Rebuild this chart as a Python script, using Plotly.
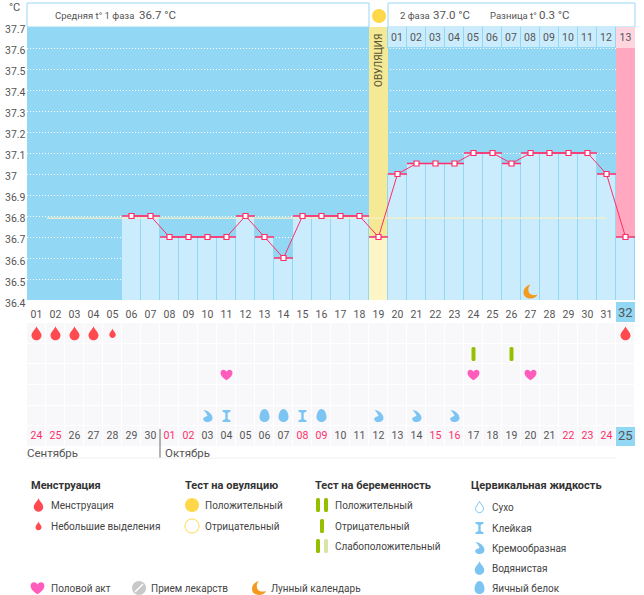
import re
import plotly.graph_objects as go

W, H = 644, 595
FONT = "Roboto"
LEGEND_FONT = "Roboto"
GREY = "#555555"
INK = "#444444"
SKY = "#92d8f5"
PALE = "#cbecfd"
RED = "#ff2d68"
PINK_TEXT = "#ff2d68"
BLOOD = "#ff4a50"
FLUID = "#7cc4f2"
GREEN = "#96bf00"
HEART_PINK = "#ff5cbc"
MOON_ORANGE = "#f39a1e"
SUN = "#ffd84a"
ITEM = 10

# chart data
cycle_days = list(range(1, 33))
day_labels = [f"{d:02d}" for d in cycle_days]
temp_days = [6, 7, 8, 9, 10, 11, 12, 13, 14, 15, 16, 17, 18, 19,
             20, 21, 22, 23, 24, 25, 26, 27, 28, 29, 30, 31, 32]
temps = [36.8, 36.8, 36.7, 36.7, 36.7, 36.7, 36.8, 36.7, 36.6, 36.8, 36.8, 36.8, 36.8, 36.7,
         37.0, 37.05, 37.05, 37.05, 37.1, 37.1, 37.05, 37.1, 37.1, 37.1, 37.1, 37.0, 36.7]
y_ticks = [37.7, 37.6, 37.5, 37.4, 37.3, 37.2, 37.1, 37.0, 36.9, 36.8, 36.7, 36.6, 36.5, 36.4]
y_labels = ["37.7", "37.6", "37.5", "37.4", "37.3", "37.2", "37.1", "37", "36.9", "36.8", "36.7", "36.6", "36.5", "36.4"]
cover_x = [1.55, 31.0]
cover_y = [36.79, 36.79]
ovulation_day = 19
phase2_days = list(range(20, 32))
phase2_labels = [f"{d:02d}" for d in range(1, 13)]
dates = ["24", "25", "26", "27", "28", "29", "30", "01", "02", "03", "04", "05", "06", "07", "08", "09",
         "10", "11", "12", "13", "14", "15", "16", "17", "18", "19", "20", "21", "22", "23", "24", "25"]
weekend_dates = ["24", "25", "01", "02", "08", "09", "15", "16", "22", "23"]
menses_days = [1, 2, 3, 4, 32]
spotting_days = [5]
preg_neg_days = [24, 26]
sex_days = [11, 24, 27]
cream_days = [10, 19, 21, 23]
sticky_days = [11, 15]
egg_days = [13, 14, 16]
moon_days = [27]
moon_temp = 36.44

# icons, pixel paths around an anchor (y up)
DROP = "M0 7 C1 4 5 1 5 -2 C5 -5 2.5 -7 0 -7 C-2.5 -7 -5 -5 -5 -2 C-5 1 -1 4 0 7 Z"
HEART = "M0 -5.5 C-3 -3.5 -6 -1 -6 2 C-6 4 -4.5 5 -3 5 C-1.5 5 -0.5 4 0 3 C0.5 4 1.5 5 3 5 C4.5 5 6 4 6 2 C6 -1 3 -3.5 0 -5.5 Z"
EGG = "M0 7 C3 7 5 2.5 5 -1 C5 -4.5 2.5 -6 0 -6 C-2.5 -6 -5 -4.5 -5 -1 C-5 2.5 -3 7 0 7 Z"
HOURGLASS = "M-4 6 L4 6 L4 4.5 L1.2 3 L1.2 -3 L4 -4.5 L4 -6 L-4 -6 L-4 -4.5 L-1.2 -3 L-1.2 3 L-4 4.5 Z"
CREAM = "M-4 6 C0 6 5 2 5 -2 C5 -5 2 -6 0 -6 C-3 -6 -5 -4 -4 -2 C-3 -0.5 -1 -0.5 0 0 C-0.5 2 -2 4 -4 6 Z"
MOON = "M0 7 C-4 6 -7 3 -7 -1 C-7 -5 -3.5 -7 0 -7 C3 -7 6 -5.5 7 -3 C4 -4 0 -4 -1.5 -1 C-3 2 -2 5 0 7 Z"
STICK = "M-2 5.5 C-2 7.5 2 7.5 2 5.5 L2 -5.5 C2 -7.5 -2 -7.5 -2 -5.5 Z"
CIRCLE = "M0 7 C3.9 7 7 3.9 7 0 C7 -3.9 3.9 -7 0 -7 C-3.9 -7 -7 -3.9 -7 0 C-7 3.9 -3.9 7 0 7 Z"


def scaled(path, k):
    return re.sub(r"-?\d+\.?\d*", lambda m: f"{float(m.group()) * k:.2f}", path)


def px(x):
    return x / W


def py(y):
    return 1 - y / H


shapes = []
annotations = []


def icon(path, x, y, color, k=1.0, xref="x", yref="y2", outline=None):
    # anchored on data (or paper) position, sized in pixels
    shapes.append(dict(type="path", path=scaled(path, k), xsizemode="pixel", ysizemode="pixel",
                       xanchor=x, yanchor=y, x0=0, y0=0, x1=0, y1=0, xref=xref, yref=yref,
                       fillcolor=color, layer="above",
                       line=dict(color=outline or color, width=1 if outline else 0)))


def legend_icon(path, x, y, color, k=1.0, outline=None):
    icon(path, px(x), py(y), color, k, "paper", "paper", outline)


def rect(x0, y0, x1, y1, fill=None, line=None, layer="below"):
    shapes.append(dict(type="rect", xref="paper", yref="paper", x0=px(x0), x1=px(x1), y0=py(y0), y1=py(y1),
                       fillcolor=fill or "rgba(0,0,0,0)", layer=layer,
                       line=dict(color=line or "rgba(0,0,0,0)", width=1 if line else 0)))


def text(x, y, s, size=10, color=GREY, font=FONT, anchor="left", weight=None, angle=0):
    label = f"<b>{s}</b>" if weight else s
    annotations.append(dict(x=px(x), y=py(y), xref="paper", yref="paper", text=label, showarrow=False,
                            xanchor=anchor, yanchor="middle", textangle=angle, borderpad=0, borderwidth=0,
                            font=dict(family=font, size=size, color=color)))


fig = go.Figure()

# tall column backgrounds
fig.add_trace(go.Bar(x=[ovulation_day], y=[37.7], width=1, marker=dict(color="#f5e996", line_width=0)))
fig.add_trace(go.Bar(x=[32], y=[37.6], width=1, marker=dict(color="#ffa8c0", line_width=0)))
fig.add_trace(go.Bar(x=phase2_days, y=[0.1] * len(phase2_days), base=37.6, width=1,
                     marker=dict(color=PALE, line=dict(color=SKY, width=1)),
                     text=phase2_labels, textposition="inside", insidetextanchor="middle", textangle=0,
                     constraintext="none", textfont=dict(family=FONT, size=10.5, color=GREY)))
fig.add_trace(go.Bar(x=[32], y=[0.1], base=37.6, width=1, marker=dict(color="#ffd5e0", line_width=0),
                     text=["13"], textposition="inside", insidetextanchor="middle", textangle=0,
                     constraintext="none", textfont=dict(family=FONT, size=10.5, color=GREY)))

# temperature columns
bar_colors = ["#fdf5c6" if d == ovulation_day else PALE for d in temp_days]
fig.add_trace(go.Bar(x=temp_days, y=temps, width=1, marker=dict(color=bar_colors, line=dict(color=SKY, width=1))))

fig.add_trace(go.Scatter(x=cover_x, y=cover_y, mode="lines", line=dict(color="#f7f0c4", width=1.2)))
fig.add_trace(go.Scatter(x=temp_days, y=temps, mode="lines+markers",
                         line=dict(color=RED, width=1),
                         marker=dict(symbol="square", size=5, color="white", line=dict(color=RED, width=1.2)),
                         error_x=dict(type="constant", value=0.5, width=0, thickness=1.5, color=RED)))

# symbol table rows
fig.add_trace(go.Heatmap(x=cycle_days, y=[1, 2, 3, 4, 5, 6], z=[[1] * 32] * 6, yaxis="y2", xgap=1, ygap=1,
                         showscale=False, colorscale=[[0, "#f8f8fa"], [1, "#f8f8fa"]], hoverinfo="skip"))
fig.add_trace(go.Scatter(x=cycle_days[:-1], y=[6] * 31, yaxis="y2", mode="text", text=dates[:-1],
                         textfont=dict(family=FONT, size=10.5,
                                       color=[PINK_TEXT if d in weekend_dates else GREY for d in dates[:-1]])))

for d in menses_days:
    icon(DROP, d, 1, BLOOD)
for d in spotting_days:
    icon(DROP, d, 1, BLOOD, 0.65)
for d in preg_neg_days:
    icon(STICK, d, 2, GREEN)
for d in sex_days:
    icon(HEART, d, 3, HEART_PINK)
for d in cream_days:
    icon(CREAM, d, 5, FLUID)
for d in sticky_days:
    icon(HOURGLASS, d, 5, FLUID)
for d in egg_days:
    icon(EGG, d, 5, FLUID)
for d in moon_days:
    icon(MOON, d, moon_temp, MOON_ORANGE, yref="y")

# sky panel behind the temperature plot
rect(27, 27, 635, 300, SKY)

# header boxes
rect(27, 3, 369, 27, "white", "#9ad8f5")
rect(388, 3, 635, 27, "white", "#9ad8f5")
legend_icon(CIRCLE, 379, 16, SUN)
text(9, 8, "°C", 11)
text(55, 15, "Средняя t° 1 фаза", 9.5)
text(139, 15, "36.7 °C", 11.5)
text(400, 15, "2 фаза", 9.5)
text(433, 15, "37.0 °C", 11.5)
text(490, 15, "Разница t°", 9.5)
text(539, 15, "0.3 °C", 11.5)
text(379, 61, "ОВУЛЯЦИЯ", 10, "#555533", anchor="center", angle=-90)

# y tick labels sit left aligned and slightly low
for v, s in zip(y_ticks, y_labels):
    annotations.append(dict(x=px(5), y=v, xref="paper", yref="y", text=s, showarrow=False, xanchor="left",
                            yshift=-3, borderpad=0, borderwidth=0, font=dict(family=FONT, size=10.5, color=GREY)))

# highlighted last day cells
rect(616, 302, 635, 322, SKY)
text(625.5, 312, day_labels[-1], 13, anchor="center")
rect(616, 427, 635, 446, SKY, layer="above")
text(625.5, 436, dates[-1], 13, anchor="center")

# months
text(27, 453, "Сентябрь", 11.5)
text(165, 453, "Октябрь", 11.5)
shapes.append(dict(type="line", xref="paper", yref="paper", x0=px(160), x1=px(160), y0=py(429), y1=py(458),
                   layer="above", line=dict(color="#666666", width=1)))
shapes.append(dict(type="line", xref="paper", yref="paper", x0=px(26), x1=px(616), y0=py(458), y1=py(458),
                   line=dict(color="#eeeeee", width=1)))

# legend
for x, s in [(31, "Менструация"), (185, "Тест на овуляцию"), (315, "Тест на беременность"), (471, "Цервикальная жидкость")]:
    text(x, 485, s, 11, "#333333", LEGEND_FONT, weight=True)

legend_icon(DROP, 38.5, 505, BLOOD, 0.95)
text(51, 505, "Менструация", ITEM, INK, LEGEND_FONT)
legend_icon(DROP, 38.5, 526, BLOOD, 0.6)
text(51, 526, "Небольшие выделения", ITEM, INK, LEGEND_FONT)

legend_icon(CIRCLE, 192, 505, SUN)
text(205, 505, "Положительный", ITEM, INK, LEGEND_FONT)
legend_icon(CIRCLE, 192, 526, "white", outline=SUN)
text(205, 526, "Отрицательный", ITEM, INK, LEGEND_FONT)

legend_icon(STICK, 318, 505, GREEN)
legend_icon(STICK, 326, 505, GREEN)
text(335, 505, "Положительный", ITEM, INK, LEGEND_FONT)
legend_icon(STICK, 322, 526, GREEN)
text(335, 526, "Отрицательный", ITEM, INK, LEGEND_FONT)
legend_icon(STICK, 318, 546, GREEN)
legend_icon(STICK, 326, 546, "#d8e5a8")
text(335, 546, "Слабоположительный", ITEM, INK, LEGEND_FONT)

legend_icon(DROP, 479.5, 507, "white", 0.8, outline=FLUID)
text(492, 507, "Сухо", ITEM, INK, LEGEND_FONT)
legend_icon(HOURGLASS, 479.5, 528, FLUID)
text(492, 528, "Клейкая", ITEM, INK, LEGEND_FONT)
legend_icon(CREAM, 479.5, 548, FLUID)
text(492, 548, "Кремообразная", ITEM, INK, LEGEND_FONT)
legend_icon(DROP, 479.5, 568, FLUID, 0.95)
text(492, 568, "Водянистая", ITEM, INK, LEGEND_FONT)
legend_icon(EGG, 479.5, 588, FLUID)
text(492, 588, "Яичный белок", ITEM, INK, LEGEND_FONT)

legend_icon(HEART, 37.5, 588, HEART_PINK, 1.15)
text(51, 588, "Половой акт", ITEM, INK, LEGEND_FONT)
legend_icon(CIRCLE, 139, 588, "#c8c8c8")
shapes.append(dict(type="line", xref="paper", yref="paper", x0=px(135), x1=px(143), y0=py(592), y1=py(584),
                   layer="above", line=dict(color="white", width=1.5)))
text(151, 588, "Прием лекарств", ITEM, INK, LEGEND_FONT)
legend_icon(MOON, 259, 588, MOON_ORANGE)
text(271, 588, "Лунный календарь", ITEM, INK, LEGEND_FONT)

fig.update_layout(
    width=W, height=H, margin=dict(l=0, r=0, t=0, b=0),
    paper_bgcolor="white", plot_bgcolor="rgba(0,0,0,0)",
    showlegend=False, barmode="overlay", bargap=0,
    shapes=shapes, annotations=annotations,
    xaxis=dict(domain=[px(27), px(635)], range=[0.5, 32.5], anchor="y",
               tickmode="array", tickvals=cycle_days[:-1], ticktext=day_labels[:-1],
               ticks="outside", ticklen=4, tickcolor="rgba(0,0,0,0)", showgrid=False, zeroline=False,
               tickfont=dict(family=FONT, size=10.5, color=GREY)),
    yaxis=dict(domain=[py(300), py(27)], range=[36.4, 37.7], anchor="x",
               tickmode="array", tickvals=y_ticks, showticklabels=False,
               showgrid=True, gridcolor="white", griddash="1px,2px", gridwidth=1, zeroline=False),
    yaxis2=dict(domain=[py(447), py(323)], range=[6.5, 0.5], anchor="x",
                showticklabels=False, showgrid=False, zeroline=False),
)

fig.write_html("out.html", config=dict(displayModeBar=False),
               post_script="document.body.style.margin='0';document.body.style.overflow='hidden';")
